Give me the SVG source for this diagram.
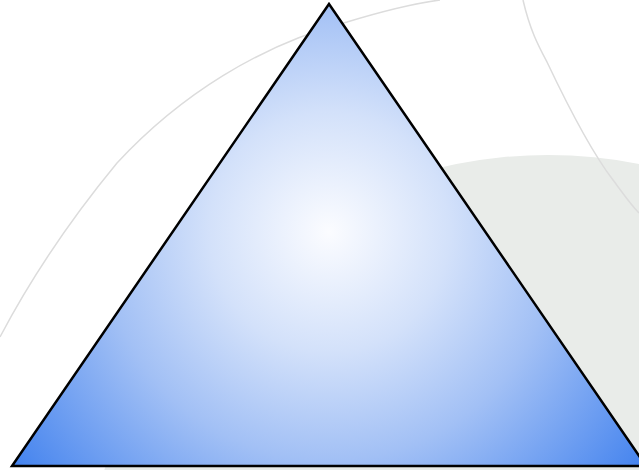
<svg xmlns="http://www.w3.org/2000/svg" width="639" height="470" viewBox="0 0 639 470">
  <defs>
    <radialGradient id="tri-grad" gradientUnits="userSpaceOnUse" cx="329" cy="232" r="400">
      <stop offset="0" stop-color="#fbfcff"/>
      <stop offset="0.3" stop-color="#d3e1fa"/>
      <stop offset="0.57" stop-color="#a2c0f5"/>
      <stop offset="1" stop-color="#3f80ee"/>
    </radialGradient>
    <style>
      .arc { fill: none; stroke: #dcdcdc; stroke-width: 1.5; }
      .backdrop { fill: #e9ece9; }
      .tri { fill: url(#tri-grad); stroke: #000; stroke-width: 2.5; stroke-linejoin: miter; }
    </style>
  </defs>
  <rect width="639" height="470" fill="#ffffff"/>
  <g id="background">
    <circle class="backdrop" cx="548" cy="625" r="470"/>
    <path class="arc" d="M0,337 C30,280 70,220 117,163 C180,95 260,45 347,22 C380,12 410,4 440,0"/>
    <path class="arc" d="M523,0 C530,30 538,45 547,62 C565,100 590,150 613,180 C622,192 630,204 639,213"/>
  </g>
  <g id="triangle">
    <polygon class="tri" points="329,4 12,466 646,466"/>
  </g>
</svg>
